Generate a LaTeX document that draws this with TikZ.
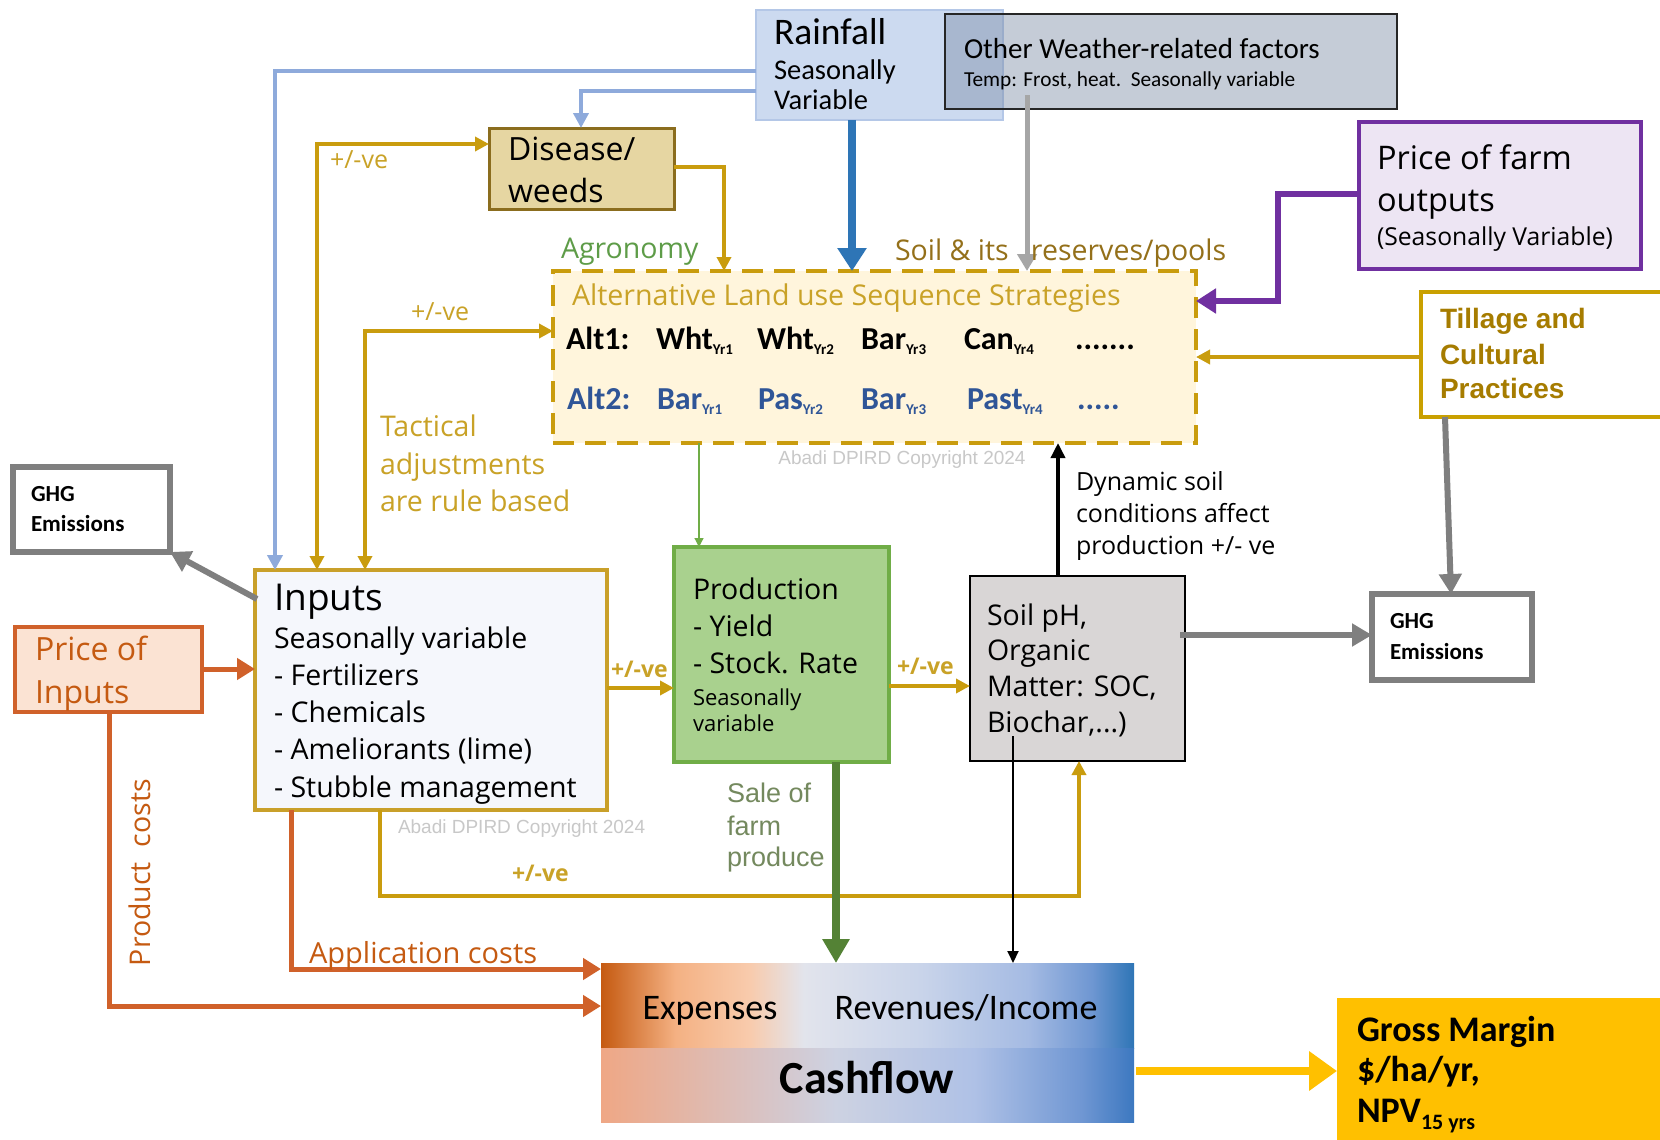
\documentclass[tikz,border=0pt]{standalone}
\usepackage{fontspec}
\setmainfont{Carlito}
\newfontfamily\segf{Open Sans}
\newfontfamily\arif{Liberation Sans}
\usetikzlibrary{arrows.meta,calc}
\definecolor{goldline}{HTML}{C99C0E}
\definecolor{goldtxt}{HTML}{C9A227}
\definecolor{olivetxt}{HTML}{94701A}
\definecolor{tilltxt}{HTML}{A67C00}
\definecolor{tillborder}{HTML}{C9A000}
\definecolor{rainfill}{HTML}{CCDAF0}
\definecolor{rainborder}{HTML}{B4C7E7}
\definecolor{wthrfill}{HTML}{7B8BA6}
\definecolor{disfill}{HTML}{E6D6A2}
\definecolor{disborder}{HTML}{8B6D1E}
\definecolor{altfill}{HTML}{FFF5DC}
\definecolor{ghggray}{HTML}{7F7F7F}
\definecolor{inpfill}{HTML}{F5F7FC}
\definecolor{inpborder}{HTML}{C9A02A}
\definecolor{pinfill}{HTML}{FBE3D3}
\definecolor{orangeln}{HTML}{D0612A}
\definecolor{orangetxt}{HTML}{C55A11}
\definecolor{prodfill}{HTML}{A9D18E}
\definecolor{prodborder}{HTML}{70AD47}
\definecolor{salegreen}{HTML}{548235}
\definecolor{saletxt}{HTML}{74895E}
\definecolor{soilfill}{HTML}{D9D6D6}
\definecolor{pfofill}{HTML}{EDE5F3}
\definecolor{purpleln}{HTML}{7030A0}
\definecolor{lightblueln}{HTML}{8EAADB}
\definecolor{blueln}{HTML}{2E75B6}
\definecolor{weathergray}{HTML}{A6A6A6}
\definecolor{agrogreen}{HTML}{5E9C48}
\definecolor{alt2blue}{HTML}{2F5597}
\definecolor{copygray}{HTML}{C8C8C8}
\definecolor{gmfill}{HTML}{FFC000}
\definecolor{ctA}{HTML}{C55A11}
\definecolor{ctB}{HTML}{F4B183}
\definecolor{ctC}{HTML}{F8CBAD}
\definecolor{ctD}{HTML}{E2E4EC}
\definecolor{ctE}{HTML}{C9D4EA}
\definecolor{ctF}{HTML}{A5BBE3}
\definecolor{ctG}{HTML}{6F97D2}
\definecolor{ctH}{HTML}{2E75B6}
\definecolor{cbA}{HTML}{EFA785}
\definecolor{cbB}{HTML}{D8C3C4}
\definecolor{cbC}{HTML}{CDD2E2}
\definecolor{cbD}{HTML}{AFC1E6}
\definecolor{cbE}{HTML}{7097D3}
\definecolor{cbF}{HTML}{3C78C0}
\pgfdeclarehorizontalshading{cashtop}{100bp}{color(0bp)=(ctA); color(25bp)=(ctA); color(32bp)=(ctB); color(39bp)=(ctC); color(44bp)=(ctD); color(55bp)=(ctE); color(65bp)=(ctF); color(71bp)=(ctG); color(75bp)=(ctH); color(100bp)=(ctH)}
\pgfdeclarehorizontalshading{cashbot}{100bp}{color(0bp)=(cbA); color(25bp)=(cbA); color(40bp)=(cbB); color(47bp)=(cbC); color(60bp)=(cbD); color(70bp)=(cbE); color(75bp)=(cbF); color(100bp)=(cbF)}
\newcommand\myfs[1]{\fontsize{#1}{#1}\selectfont}
\newcommand\yrsub[1]{\raisebox{-5pt}{\myfs{15}Yr#1}}
\begin{document}
\begin{tikzpicture}[x=1pt,y=-1pt,
  tx/.style={anchor=base west,inner sep=0pt,outer sep=0pt},
  txc/.style={anchor=base,inner sep=0pt,outer sep=0pt},
  box/.style={anchor=north west,inner sep=0pt,outer sep=0pt,rectangle},
  goldln/.style={draw=goldline,line width=3.5pt},
  gtip/.style={-{Triangle[length=14pt,width=14pt]}},
  gtip2/.style={{Triangle[length=14pt,width=14pt]}-{Triangle[length=14pt,width=14pt]}},
  orln/.style={draw=orangeln,line width=5pt,-{Triangle[length=18pt,width=21pt]}},
  ghgln/.style={draw=ghggray,line width=6pt,-{Triangle[length=20pt,width=22pt]}},
  lbln/.style={draw=lightblueln,line width=4pt,-{Triangle[length=15pt,width=15pt]}},
]
\useasboundingbox (0,0) rectangle (1660,1140);
\begin{scope}
\clip (0,0) rectangle (1660,1140);
\fill[white] (0,0) rectangle (1660,1140);

% ---------- boxes ----------
\node[box,fill=rainfill,draw=rainborder,line width=1.5pt,minimum width=247pt,minimum height=110pt] (rain) at (756,10) {};
\node[box,fill=wthrfill,fill opacity=0.44,draw=black!85,line width=2.5pt,minimum width=452pt,minimum height=95pt] (wthr) at (945,14) {};
\node[box,fill=disfill,draw=disborder,line width=3pt,minimum width=185pt,minimum height=81pt] (dis) at (489,128) {};
\node[box,fill=altfill,draw=goldline,line width=3.5pt,dash pattern=on 21pt off 11pt,minimum width=643pt,minimum height=172pt] (alt) at (553,271) {};
\node[box,fill=white,draw=ghggray,line width=6pt,minimum width=157pt,minimum height=85pt] (ghgL) at (13,467) {};
\node[box,fill=inpfill,draw=inpborder,line width=3.5pt,minimum width=352pt,minimum height=240pt] (inp) at (255,570) {};
\node[box,fill=pinfill,draw=orangeln,line width=3.5pt,minimum width=187pt,minimum height=85pt] (pin) at (15,627) {};
\node[box,fill=prodfill,draw=prodborder,line width=3.5pt,minimum width=215pt,minimum height=215pt] (prod) at (674,547) {};
\node[box,fill=soilfill,draw=black,line width=2.5pt,minimum width=215pt,minimum height=185pt] (soil) at (970,576) {};
\node[box,fill=white,draw=ghggray,line width=6pt,minimum width=160pt,minimum height=86pt] (ghgR) at (1372,594) {};
\node[box,fill=pfofill,draw=purpleln,line width=3.5pt,minimum width=282pt,minimum height=147pt] (pfo) at (1359,122) {};
\node[box,fill=white,draw=tillborder,line width=4.5pt,minimum width=260pt,minimum height=125pt] (till) at (1421,292) {};
\node[box,minimum width=533pt,minimum height=159pt] (cash) at (601,963) {};
\shade[shading=cashtop] (cash.north west) rectangle ($(cash.north west)+(533,85)$);
\shade[shading=cashbot] ($(cash.north west)+(0,85)$) rectangle (cash.south east);
\node[box,fill=gmfill,minimum width=330pt,minimum height=150pt] (gm) at (1337,998) {};

% ---------- connectors ----------
\draw[lbln] ($(rain.north west)+(0,61)$) -| ($(inp.north west)+(20,0)$);
\draw[lbln] ($(rain.north west)+(0,81)$) -| ($(dis.north west)+(92,0)$);
\draw[draw=blueln,line width=8pt,-{Triangle[length=23pt,width=28pt]}] ($(rain.south west)+(96,0)$) -- ($(alt.north west)+(299,0)$);
\draw[draw=weathergray,line width=5pt,-{Triangle[length=17pt,width=19pt]}] ($(wthr.north west)+(82,81)$) -- ($(alt.north west)+(474,0)$);
\draw[goldln,gtip] ($(dis.north east)+(0,39)$) -| ($(alt.north west)+(171,0)$);
\draw[goldln,gtip2] ($(inp.north west)+(62,0)$) |- ($(dis.north west)+(0,16)$);
\draw[goldln,gtip2] ($(inp.north west)+(110,0)$) |- ($(alt.north west)+(0,60)$);
\draw[draw=prodborder,line width=1.2pt,-{Triangle[length=9pt,width=9pt]}] ($(alt.south west)+(146,0)$) -- ($(prod.north west)+(25,0)$);
\draw[goldln,gtip] ($(inp.north east)+(0,118)$) -- ($(prod.north west)+(0,141)$);
\draw[goldln,gtip] ($(prod.north east)+(0,139)$) -- ($(soil.north west)+(0,110)$);
\draw[draw=black,line width=3.5pt,-{Triangle[length=15pt,width=14pt]}] ($(soil.north west)+(88,0)$) -- ($(alt.south west)+(505,0)$);
\draw[ghgln] ($(soil.north east)+(-5,59)$) -- ($(ghgR.north west)+(0,41)$);
\draw[ghgln] ($(till.south west)+(24,0)$) -- ($(ghgR.north west)+(79,0)$);
\draw[goldln,gtip] ($(till.north west)+(0,65)$) -- ($(alt.north east)+(0,86)$);
\draw[draw=purpleln,line width=6pt,-{Triangle[length=20pt,width=24pt]}] ($(pfo.north west)+(0,72)$) -| ($(alt.north east)+(82,30)$) -- ($(alt.north east)+(0,30)$);
\draw[ghgln] ($(inp.north west)+(2,29)$) -- (ghgL.south east);
\draw[orln] ($(pin.north east)+(0,42)$) -- ($(inp.north west)+(0,99)$);
\draw[orln] ($(pin.south west)+(94,0)$) |- ($(cash.north west)+(0,43)$);
\draw[orln] ($(inp.south west)+(36,0)$) |- ($(cash.north west)+(0,6)$);
\draw[goldln,gtip] ($(inp.south west)+(125,0)$) -- ($(inp.south west)+(125,86)$) -| ($(soil.south west)+(109,0)$);
\draw[draw=salegreen,line width=8pt,-{Triangle[length=24pt,width=26pt]}] ($(prod.south west)+(162,0)$) -- ($(cash.north west)+(235,0)$);
\draw[draw=black,line width=2pt,-{Triangle[length=12pt,width=11pt]}] ($(soil.north west)+(43,160)$) -- ($(cash.north west)+(412,0)$);
\draw[draw=gmfill,line width=8pt,-{Triangle[length=28pt,width=38pt]}] ($(cash.north east)+(2,108)$) -- ($(gm.north west)+(0,73)$);

% ---------- texts ----------
\node[tx] (tRain1) at (774,45) {\myfs{37.5}Rainfall};
\node[tx] (tRain2) at (774,79) {\myfs{28.5}Seasonally};
\node[tx] (tRain3) at (774,110) {\myfs{28.5}Variable};
\node[tx] (tW1) at (964,59) {\myfs{29}Other Weather-related factors};
\node[tx] (tW2) at (964,86) {\myfs{21.3}Temp: Frost, heat.\ \ Seasonally variable};
\node[tx] (tDis1) at (508,160) {\segf\myfs{32}Disease/};
\node[tx] (tDis2) at (508,202) {\segf\myfs{32}weeds};
\node[tx,text=agrogreen] (tAgro) at (561,258) {\segf\myfs{28.5}Agronomy};
\node[tx,text=olivetxt] (tSoilRes) at (895,260) {\segf\myfs{28.5}Soil \& its\ \ \ reserves/pools};
\node[tx,text=goldtxt] (tAltT) at (572,305) {\segf\myfs{28.6}Alternative Land use Sequence\ Strategies};
\begin{scope}[every node/.append style={font=\bfseries\myfs{32}}]
\node[tx] (a1) at (566,349) {Alt1:};
\node[tx] (a1a) at (656,349) {Wht\yrsub{1}};
\node[tx] (a1b) at (757,349) {Wht\yrsub{2}};
\node[tx] (a1c) at (861,349) {Bar\yrsub{3}};
\node[tx] (a1d) at (964,349) {Can\yrsub{4}};
\node[tx] (a1e) at (1075,349) {.......};
\node[tx,text=alt2blue] (a2) at (567,409) {Alt2:};
\node[tx,text=alt2blue] (a2a) at (657,409) {Bar\yrsub{1}};
\node[tx,text=alt2blue] (a2b) at (758,409) {Pas\yrsub{2}};
\node[tx,text=alt2blue] (a2c) at (861,409) {Bar\yrsub{3}};
\node[tx,text=alt2blue] (a2d) at (967,409) {Past\yrsub{4}};
\node[tx,text=alt2blue] (a2e) at (1077,409) {.....};
\end{scope}
\node[txc,text=copygray] (copy1) at (902,464) {\arif\myfs{19}Abadi DPIRD Copyright 2024};
\node[tx,text=goldtxt] (tTac1) at (380,436) {\segf\myfs{28.5}Tactical};
\node[tx,text=goldtxt] (tTac2) at (380,474) {\segf\myfs{28.5}adjustments};
\node[tx,text=goldtxt] (tTac3) at (380,511) {\segf\myfs{28.5}are rule based};
\node[tx,text=goldtxt] (pm1) at (330,168) {\segf\myfs{25}+/-ve};
\node[tx,text=goldtxt] (pm2) at (411,320) {\segf\myfs{25}+/-ve};
\node[tx] (tG1) at (31,501) {\bfseries\myfs{23}GHG};
\node[tx] (tG2) at (31,531) {\bfseries\myfs{23}Emissions};
\node[tx] (tIn1) at (274,610) {\segf\myfs{37}Inputs};
\node[tx] (tIn2) at (274,648) {\segf\myfs{28.5}Seasonally variable};
\node[tx] (tIn3) at (274,685) {\segf\myfs{28.5}- Fertilizers};
\node[tx] (tIn4) at (274,722) {\segf\myfs{28.5}- Chemicals};
\node[tx] (tIn5) at (274,759) {\segf\myfs{28.5}- Ameliorants (lime)};
\node[tx] (tIn6) at (274,797) {\segf\myfs{28.5}- Stubble management};
\node[tx,text=orangetxt] (tPi1) at (35,660) {\segf\myfs{32}Price of};
\node[tx,text=orangetxt] (tPi2) at (35,703) {\segf\myfs{32}Inputs};
\node[tx,text=goldtxt] (pm3) at (611,677) {\segf\bfseries\myfs{23}+/-ve};
\node[tx] (tPr1) at (693,599) {\segf\myfs{28.5}Production};
\node[tx] (tPr2) at (693,636) {\segf\myfs{28.5}- Yield};
\node[tx] (tPr3) at (693,673) {\segf\myfs{28.5}- Stock. Rate};
\node[tx] (tPr4) at (693,705) {\segf\myfs{22}Seasonally};
\node[tx] (tPr5) at (693,731) {\segf\myfs{22}variable};
\node[tx,text=goldtxt] (pm4) at (897,674) {\segf\bfseries\myfs{23}+/-ve};
\node[tx] (tS1) at (987,625) {\segf\myfs{28.5}Soil pH,};
\node[tx] (tS2) at (987,660) {\segf\myfs{28.5}Organic};
\node[tx] (tS3) at (987,696) {\segf\myfs{28.5}Matter: SOC,};
\node[tx] (tS4) at (987,732) {\segf\myfs{28.5}Biochar,...)};
\node[tx] (tD1) at (1076,490) {\segf\myfs{25}Dynamic soil};
\node[tx] (tD2) at (1076,522) {\segf\myfs{25}conditions affect};
\node[tx] (tD3) at (1076,554) {\segf\myfs{25}production +/- ve};
\node[tx] (tG3) at (1390,628) {\bfseries\myfs{23}GHG};
\node[tx] (tG4) at (1390,659) {\bfseries\myfs{23}Emissions};
\node[tx] (tP1) at (1377,169) {\segf\myfs{32.5}Price of farm};
\node[tx] (tP2) at (1377,211) {\segf\myfs{32.5}outputs};
\node[tx] (tP3) at (1377,245) {\segf\myfs{24.7}(Seasonally Variable)};
\node[tx,text=tilltxt] (tT1) at (1440,328) {\arif\bfseries\myfs{28}Tillage and};
\node[tx,text=tilltxt] (tT2) at (1440,364) {\arif\bfseries\myfs{28}Cultural};
\node[tx,text=tilltxt] (tT3) at (1440,398) {\arif\bfseries\myfs{28}Practices};
\node[tx,text=copygray] (copy2) at (398,833) {\arif\myfs{19}Abadi DPIRD Copyright 2024};
\node[tx,text=goldtxt] (pm5) at (512,881) {\segf\bfseries\myfs{23}+/-ve};
\node[tx,text=saletxt] (tSa1) at (727,802) {\arif\myfs{27}Sale of};
\node[tx,text=saletxt] (tSa2) at (727,835) {\arif\myfs{27}farm};
\node[tx,text=saletxt] (tSa3) at (727,866) {\arif\myfs{27}produce};
\node[tx,text=orangetxt] (tApp) at (309,963) {\segf\myfs{29}Application costs};
\node[tx,text=orangetxt,rotate=90] (tProd) at (150,966) {\segf\myfs{28.5}Product\ \ costs};
\node[txc] (tExp) at (710,1019) {\myfs{36}Expenses};
\node[txc] (tRev) at (966,1019) {\myfs{36}Revenues/Income};
\node[txc] (tCash) at (867,1093) {\bfseries\myfs{46}Cashflow};
\node[tx] (tGM1) at (1357,1041) {\bfseries\myfs{36}Gross Margin};
\node[tx] (tGM2) at (1357,1081) {\bfseries\myfs{36}\$/ha/yr,};
\node[tx] (tGM3) at (1357,1122) {\bfseries\myfs{36}NPV\raisebox{-7pt}{\myfs{22}15 yrs}};
\end{scope}
\end{tikzpicture}
\end{document}
